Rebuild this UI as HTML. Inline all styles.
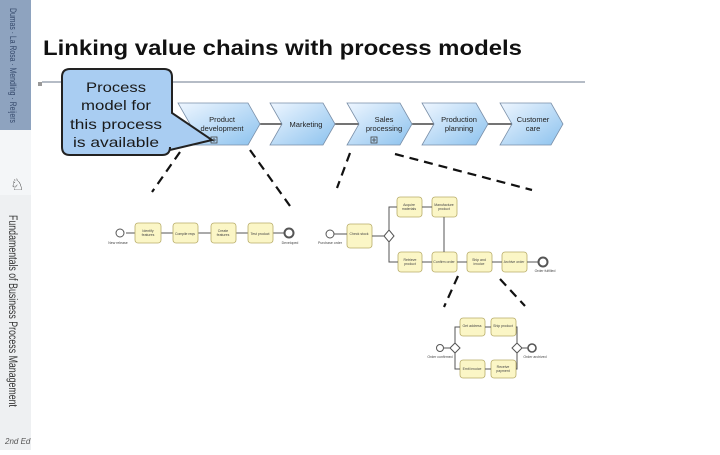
<!DOCTYPE html>
<html><head><meta charset="utf-8"><style>
html,body{margin:0;padding:0;background:#fff;}
body{width:720px;height:450px;overflow:hidden;font-family:"Liberation Sans",Arial,sans-serif;}
</style></head><body>
<svg width="720" height="450" viewBox="0 0 720 450" xmlns="http://www.w3.org/2000/svg" font-family="Liberation Sans, Arial, sans-serif">
<defs>
<linearGradient id="cg" x1="0" y1="0" x2="1" y2="1"><stop offset="0" stop-color="#eef6ff"/><stop offset="1" stop-color="#8cc2ee"/></linearGradient>
</defs>
<!-- sidebar -->
<rect x="0" y="0" width="31" height="450" fill="#eef0f2"/>
<rect x="0" y="0" width="31" height="130" fill="#8ea3bf"/>
<rect x="0" y="130" width="31" height="65" fill="#f4f6f8"/>
<text transform="translate(10,8) rotate(90)" font-size="9" fill="#34486a" textLength="115" lengthAdjust="spacingAndGlyphs">Dumas · La Rosa · Mendling · Reijers</text>
<text x="10" y="190" font-size="16" fill="#333">♘</text>
<text transform="translate(9,215) rotate(90)" font-size="11.5" fill="#333" textLength="192" lengthAdjust="spacingAndGlyphs">Fundamentals of Business Process Management</text>
<text x="5" y="444" font-size="8" fill="#555" font-style="italic">2nd Ed</text>
<rect x="38" y="82" width="4" height="4" fill="#999"/>
<!-- title -->
<text x="43" y="55" font-size="21" font-weight="bold" fill="#111" textLength="479" lengthAdjust="spacingAndGlyphs">Linking value chains with process models</text>
<rect x="42" y="81" width="543" height="2" fill="#b5bcc6"/>
<!-- chevrons connectors -->
<g stroke="#222" stroke-width="1.3">
<line x1="260" y1="124" x2="282" y2="124"/><line x1="335" y1="124" x2="359" y2="124"/><line x1="412" y1="124" x2="434" y2="124"/><line x1="488" y1="124" x2="512" y2="124"/>
</g>
<g stroke="#7a8fa8" stroke-width="0.8" fill="url(#cg)">
<path d="M178,103H248L260,124L248,145H178L190,124Z"/>
<path d="M270,103H323L335,124L323,145H270L282,124Z"/>
<path d="M347,103H400L412,124L400,145H347L359,124Z"/>
<path d="M422,103H476L488,124L476,145H422L434,124Z"/>
<path d="M500,103H551L563,124L551,145H500L512,124Z"/>
</g>
<g font-size="7.5" fill="#222" text-anchor="middle">
<text x="222" y="122">Product</text><text x="222" y="131">development</text>
<text x="306" y="127">Marketing</text>
<text x="384" y="122">Sales</text><text x="384" y="131">processing</text>
<text x="459" y="122">Production</text><text x="459" y="131">planning</text>
<text x="533" y="122">Customer</text><text x="533" y="131">care</text>
</g>
<g fill="none" stroke="#444" stroke-width="0.8"><rect x="211" y="137" width="6" height="6"/><path d="M214,138V142M212,140H216"/><rect x="371" y="137" width="6" height="6"/><path d="M374,138V142M372,140H376"/></g>
<!-- callout -->
<path d="M70,69H164Q172,69 172,77V113L212,140L170,150V147Q170,155 162,155H70Q62,155 62,147V77Q62,69 70,69Z" fill="#a9cdf2" stroke="#222" stroke-width="2"/>
<g font-size="14" fill="#1a1a1a" text-anchor="middle">
<text x="116" y="92" textLength="60" lengthAdjust="spacingAndGlyphs">Process</text><text x="116" y="110" textLength="70" lengthAdjust="spacingAndGlyphs">model for</text><text x="116" y="129" textLength="92" lengthAdjust="spacingAndGlyphs">this process</text><text x="116" y="147" textLength="86" lengthAdjust="spacingAndGlyphs">is available</text>
</g>
<!-- dashed links -->
<g stroke="#111" stroke-width="2.2" stroke-dasharray="9,6" fill="none">
<line x1="180" y1="152" x2="152" y2="192"/><line x1="250" y1="150" x2="290" y2="206"/>
<line x1="350" y1="153" x2="337" y2="188"/><line x1="395" y1="154" x2="532" y2="190"/>
<line x1="458" y1="276" x2="444" y2="307"/><line x1="500" y1="279" x2="525" y2="306"/>
</g>
<!-- process 1 -->
<g stroke="#555" stroke-width="1" fill="none">
<line x1="126" y1="233" x2="135" y2="233"/><line x1="161" y1="233" x2="173" y2="233"/><line x1="198" y1="233" x2="211" y2="233"/><line x1="236" y1="233" x2="248" y2="233"/><line x1="273" y1="233" x2="284" y2="233"/>
<circle cx="120" cy="233" r="4" fill="#fff"/><circle cx="289" cy="233" r="4.5" stroke-width="2" fill="#fff"/>
</g>
<g fill="#fbf6c6" stroke="#b8ad6a" stroke-width="0.8">
<rect x="135" y="223" width="26" height="20" rx="3"/><rect x="173" y="223" width="25" height="20" rx="3"/><rect x="211" y="223" width="25" height="20" rx="3"/><rect x="248" y="223" width="25" height="20" rx="3"/>
<rect x="347" y="224" width="25" height="24" rx="3"/><rect x="397" y="197" width="25" height="20" rx="3"/><rect x="432" y="197" width="25" height="20" rx="3"/>
<rect x="398" y="252" width="24" height="20" rx="3"/><rect x="432" y="252" width="25" height="20" rx="3"/><rect x="467" y="252" width="25" height="20" rx="3"/><rect x="502" y="252" width="25" height="20" rx="3"/>
<rect x="460" y="318" width="25" height="18" rx="3"/><rect x="491" y="318" width="25" height="18" rx="3"/><rect x="460" y="360" width="25" height="18" rx="3"/><rect x="491" y="360" width="25" height="18" rx="3"/>
</g>
<g stroke="#555" stroke-width="1" fill="none">
<circle cx="330" cy="234" r="4" fill="#fff"/><line x1="334" y1="234" x2="347" y2="234"/><line x1="372" y1="236" x2="384" y2="236"/>
<path d="M389,231V207H397M389,241V262H398M422,207H432M444,217V252M422,262H432M457,262H467M492,262H502M527,262H538"/>
<circle cx="543" cy="262" r="4.5" stroke-width="2" fill="#fff"/>
<path d="M389,230L394,236L389,242L384,236Z" fill="#fff"/>
<circle cx="440" cy="348" r="3.5" fill="#fff"/><line x1="444" y1="348" x2="450" y2="348"/>
<path d="M455,343L460,348L455,353L450,348Z" fill="#fff"/><path d="M455,343V327H460M455,353V369H460M485,327H491M485,369H491M516,327H517V343M516,369H517V353"/>
<path d="M517,343L522,348L517,353L512,348Z" fill="#fff"/><line x1="522" y1="348" x2="528" y2="348"/>
<circle cx="532" cy="348" r="4" stroke-width="1.6" fill="#fff"/>
</g>
<g font-size="3.5" fill="#444" text-anchor="middle">
<text x="148" y="232">Identify</text><text x="148" y="236">features</text>
<text x="185" y="235" textLength="20">Compile reqs</text><text x="223" y="232">Create</text><text x="223" y="236">features</text><text x="260" y="235">Test product</text>
<text x="359" y="235">Check stock</text><text x="409" y="206">Acquire</text><text x="409" y="210">materials</text><text x="444" y="206">Manufacture</text><text x="444" y="210">product</text>
<text x="410" y="261">Retrieve</text><text x="410" y="265">product</text><text x="444" y="263">Confirm order</text><text x="479" y="261">Ship and</text><text x="479" y="265">invoice</text><text x="514" y="263">Archive order</text>
<text x="472" y="327">Get address</text><text x="503" y="327">Ship product</text><text x="472" y="370">Emit invoice</text><text x="503" y="368">Receive</text><text x="503" y="372">payment</text>
<text x="118" y="244">New release</text><text x="290" y="244">Developed</text><text x="330" y="244">Purchase order</text><text x="545" y="272">Order fulfilled</text>
<text x="440" y="358">Order confirmed</text><text x="535" y="358">Order archived</text>
</g>
</svg>
</body></html>
